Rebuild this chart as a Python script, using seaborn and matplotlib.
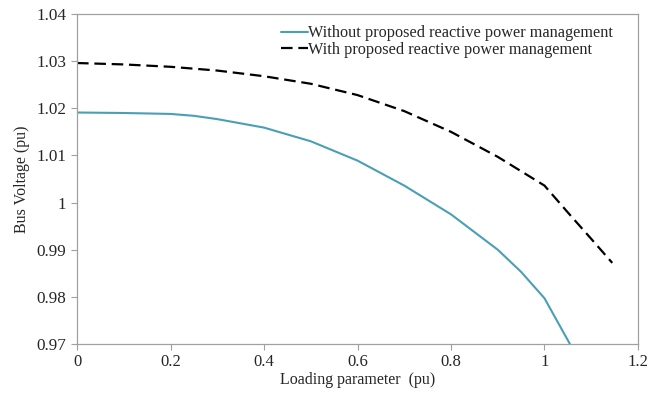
import matplotlib
matplotlib.use("Agg")
import matplotlib.pyplot as plt
import seaborn as sns
import pandas as pd

x_without = [0.0, 0.1, 0.2, 0.25, 0.3, 0.4, 0.5, 0.6, 0.7, 0.8, 0.9, 0.95, 1.0, 1.06]
v_without = [1.0191, 1.0190, 1.0188, 1.0184, 1.0177, 1.0159, 1.0130, 1.0089, 1.0036, 0.9975, 0.9900, 0.9853, 0.9797, 0.9690]
x_with = [0.0, 0.1, 0.2, 0.3, 0.4, 0.5, 0.6, 0.7, 0.8, 0.9, 1.0, 1.05, 1.1, 1.145]
v_with = [1.0296, 1.0293, 1.0288, 1.0280, 1.0268, 1.0252, 1.0228, 1.0194, 1.0150, 1.0097, 1.0036, 0.9979, 0.9923, 0.9872]
label_without = "Without proposed reactive power management"
label_with = "With proposed reactive power management"
xticks = [0, 0.2, 0.4, 0.6, 0.8, 1, 1.2]
xtick_labels = ["0", "0.2", "0.4", "0.6", "0.8", "1", "1.2"]
yticks = [0.97, 0.98, 0.99, 1.0, 1.01, 1.02, 1.03, 1.04]
ytick_labels = ["0.97", "0.98", "0.99", "1", "1.01", "1.02", "1.03", "1.04"]

sns.set_style("white")
plt.rcParams['font.family'] = ['Liberation Serif', 'DejaVu Serif']

df1 = pd.DataFrame({"x": x_without, "v": v_without})
df2 = pd.DataFrame({"x": x_with, "v": v_with})

dash = [5.2, 2.6]

fig = plt.figure(figsize=(6.49, 3.93), dpi=100)
ax = fig.add_axes([0.1187, 0.1247, 0.8643, 0.8397])
sns.lineplot(data=df1, x="x", y="v", ax=ax, color="#4A9FB5", lw=1.5, label=label_without)
sns.lineplot(data=df2, x="x", y="v", ax=ax, color="black", lw=1.6, label=label_with)
ax.lines[1].set_dashes(dash)

ax.set_xlim(0, 1.2)
ax.set_ylim(0.97, 1.04)
ax.set_xticks(xticks)
ax.set_xticklabels(xtick_labels)
ax.set_yticks(yticks)
ax.set_yticklabels(ytick_labels)
ax.tick_params(axis="both", labelsize=12.3, direction="out", length=4.5, color="#a0a0a0",
               width=0.8, pad=3, bottom=True, left=True)
ax.tick_params(axis="x", labelsize=12)
for s in ax.spines.values():
    s.set_color("#a0a0a0")
    s.set_linewidth(0.9)
ax.set_xlabel("Loading parameter  (pu)", fontsize=11.5, labelpad=1)
ax.set_ylabel("Bus Voltage (pu)", fontsize=11.5, labelpad=5)

leg = ax.legend(loc="upper left", bbox_to_anchor=(0.343, 1.0), frameon=False, fontsize=11.7,
                handlelength=1.65, handletextpad=0.05, labelspacing=0.05, borderaxespad=0.3)
leg.get_lines()[1].set_linestyle((0, dash))

fig.savefig("out.png", dpi=100)
